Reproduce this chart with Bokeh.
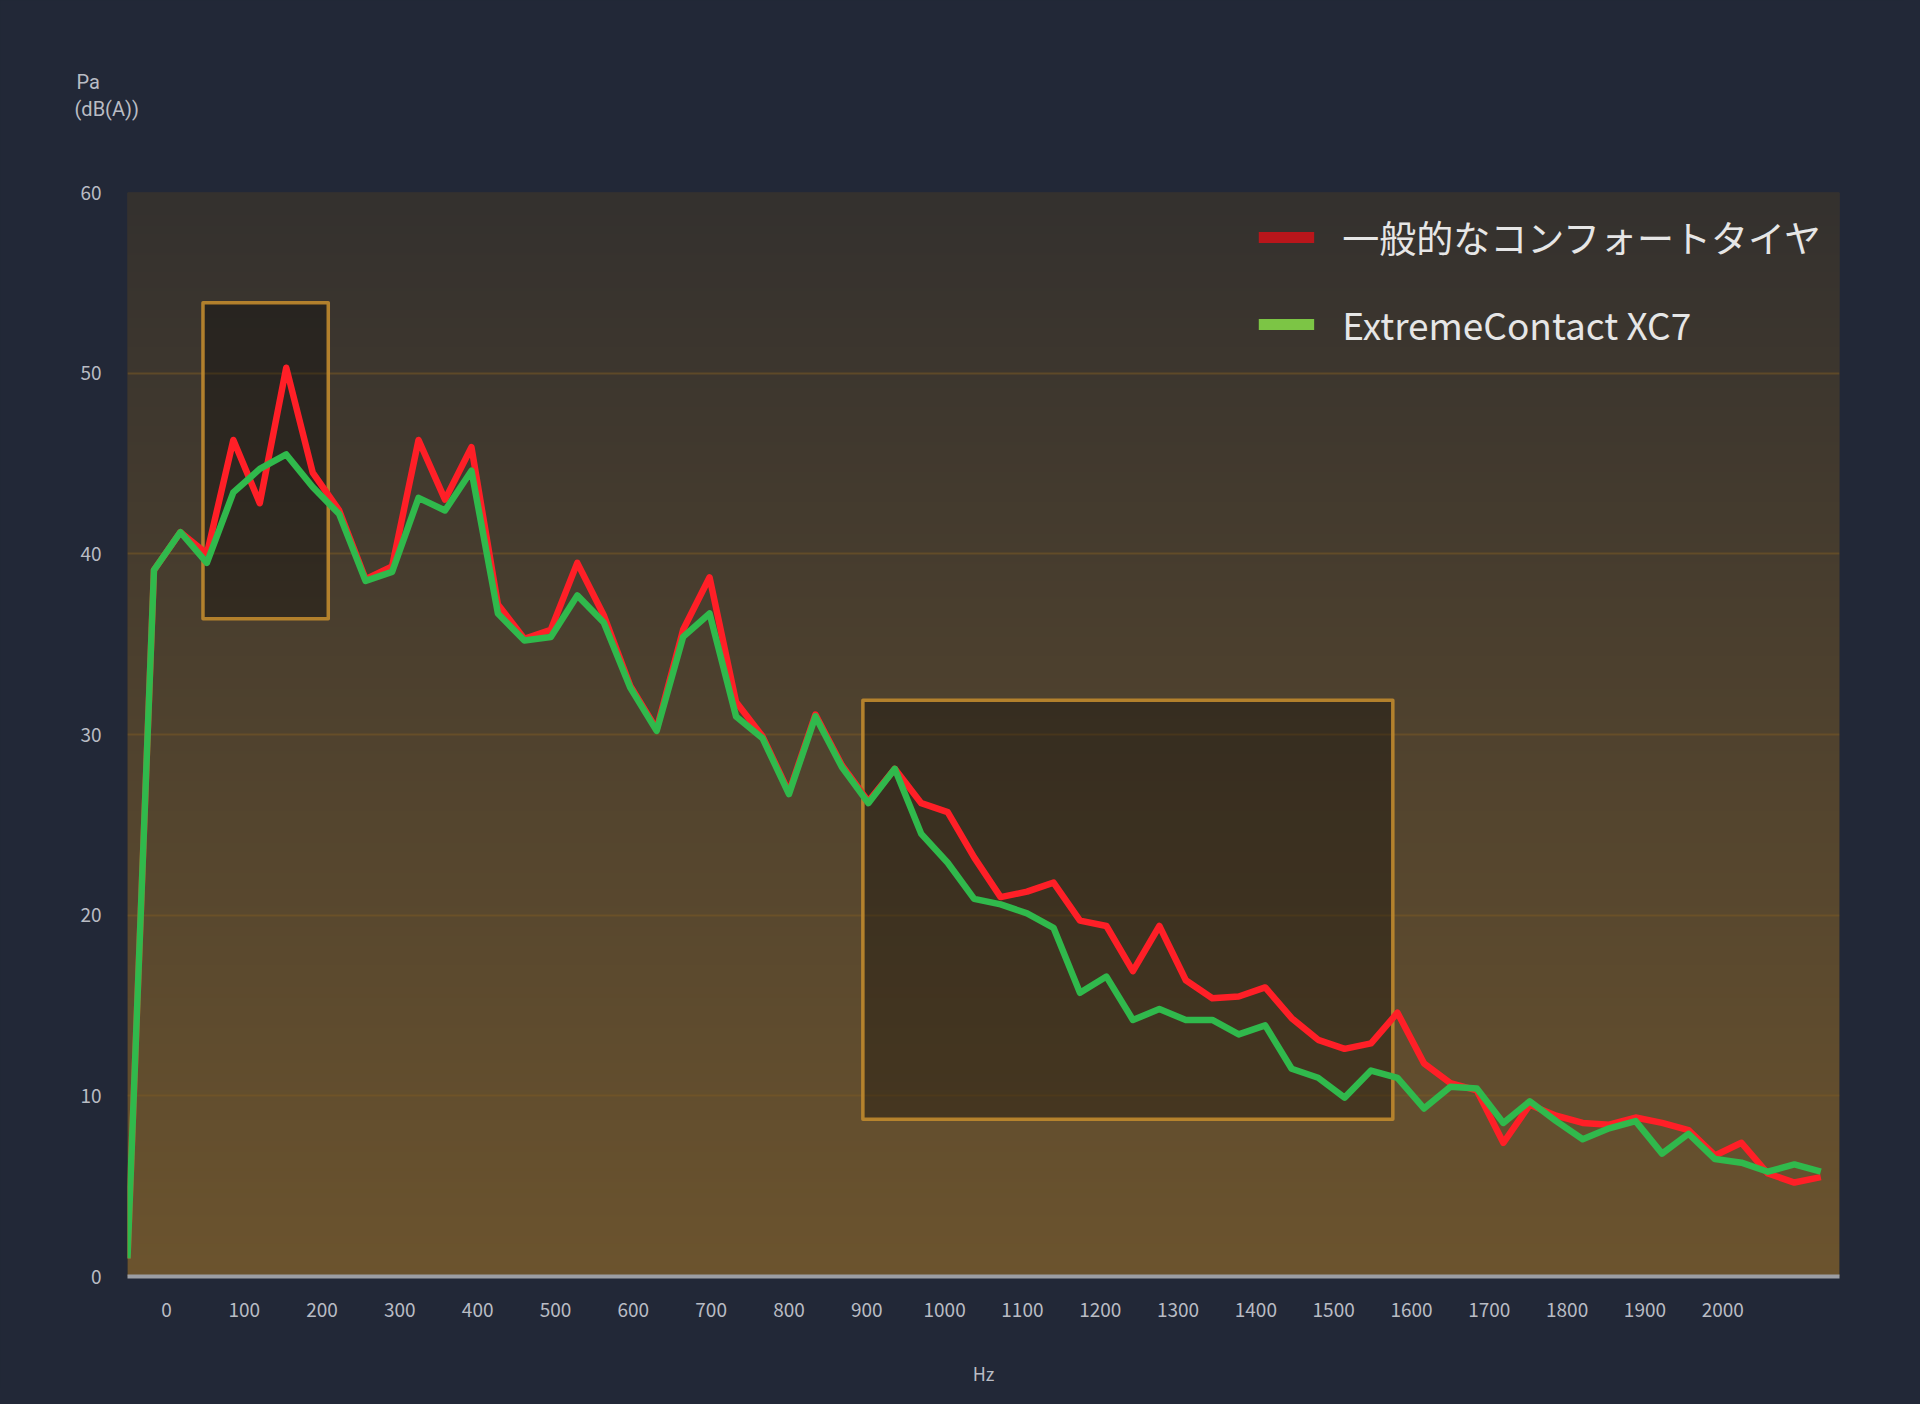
import numpy as np
from bokeh.plotting import figure
from bokeh.models import (Legend, LegendItem, Title, FixedTicker, Range1d,
                          ColumnDataSource)
from bokeh.embed import file_html
from bokeh.resources import INLINE

# ---------------- data ----------------
freq = [-50, -16, 18, 52, 86, 120, 154, 188, 222, 256, 290, 324, 358, 392, 426,
        460, 494, 528, 562, 596, 630, 664, 698, 732, 766, 800, 834, 868, 902,
        936, 970, 1004, 1038, 1072, 1106, 1140, 1174, 1208, 1242, 1276, 1310,
        1344, 1378, 1412, 1446, 1480, 1514, 1548, 1582, 1616, 1650, 1684, 1718,
        1752, 1786, 1820, 1854, 1888, 1922, 1956, 1990, 2024, 2058, 2092, 2126]

comfort = [1.0, 39.1, 41.2, 40.0, 46.3, 42.8, 50.3, 44.5, 42.4, 38.6, 39.3,
           46.3, 43.0, 45.9, 37.2, 35.3, 35.8, 39.5, 36.6, 32.7, 30.3, 35.8,
           38.7, 31.8, 29.9, 26.8, 31.1, 28.3, 26.3, 28.1, 26.2, 25.7, 23.2,
           21.0, 21.3, 21.8, 19.7, 19.4, 16.9, 19.4, 16.4, 15.4, 15.5, 16.0,
           14.3, 13.1, 12.6, 12.9, 14.6, 11.8, 10.7, 10.3, 7.4, 9.5, 8.9, 8.5,
           8.4, 8.8, 8.5, 8.1, 6.7, 7.4, 5.7, 5.2, 5.5]

xc7 = [1.0, 39.1, 41.2, 39.5, 43.4, 44.7, 45.5, 43.7, 42.2, 38.5, 39.0, 43.1,
       42.4, 44.6, 36.7, 35.2, 35.4, 37.7, 36.2, 32.6, 30.2, 35.4, 36.7, 31.0,
       29.8, 26.7, 31.0, 28.2, 26.2, 28.1, 24.5, 22.9, 20.9, 20.6, 20.1, 19.3,
       15.7, 16.6, 14.2, 14.8, 14.2, 14.2, 13.4, 13.9, 11.5, 11.0, 9.9, 11.4,
       11.0, 9.3, 10.5, 10.4, 8.5, 9.7, 8.6, 7.6, 8.2, 8.6, 6.8, 7.9, 6.5,
       6.3, 5.8, 6.2, 5.8]

series_names = ["一般的なコンフォートタイヤ", "ExtremeContact XC7"]
x_ticks = list(range(0, 2001, 100))
y_ticks = [0, 10, 20, 30, 40, 50, 60]
y_unit = ["Pa", "(dB(A))"]

# highlighted regions (left, right, bottom, top)
hl_left = [47, 895]
hl_right = [208, 1576]
hl_bottom = [36.4, 8.7]
hl_top = [53.9, 31.9]

# ---------------- styles ----------------
FONT = "Noto Sans CJK JP"
UNIT_FONT = "Roboto"
PAGE_BG = "#222837"
TEXT = "#b9bcc4"
RED = "#ff1f27"
GREEN = "#30b94c"
RED_LEG = "#b9161b"
GREEN_LEG = "#7cc545"

X0, X1 = -50, 2150
Y0, Y1 = 0, 60

p = figure(width=1904, height=1388, x_range=Range1d(X0, X1),
           y_range=Range1d(Y0, Y1), output_backend="svg",
           toolbar_location=None, min_border_left=127, min_border_right=65,
           min_border_top=192, min_border_bottom=112)
p.border_fill_color = PAGE_BG
p.background_fill_color = "#3e362c"
p.outline_line_color = None

# vertical gradient background of the plotting area
n = 400
top = np.array([52, 49, 46], dtype=float)
bot = np.array([108, 84, 46], dtype=float)
t = np.linspace(0, 1, n)[:, None]
cols = bot * (1 - t) + top * t
img = np.zeros((n, 1), dtype=np.uint32)
view = img.view(dtype=np.uint8).reshape((n, 1, 4))
view[:, 0, 0] = cols[:, 0].astype(np.uint8)
view[:, 0, 1] = cols[:, 1].astype(np.uint8)
view[:, 0, 2] = cols[:, 2].astype(np.uint8)
view[:, 0, 3] = 255
p.image_rgba(image=[img], x=X0, y=Y0, dw=X1 - X0, dh=Y1 - Y0, level="image")

# grid
p.xgrid.grid_line_color = None
p.ygrid.grid_line_color = "#7a5a24"
p.ygrid.grid_line_alpha = 0.55
p.ygrid.grid_line_width = 2
p.ygrid.ticker = FixedTicker(ticks=y_ticks)

# axes
p.xaxis.ticker = FixedTicker(ticks=x_ticks)
p.yaxis.ticker = FixedTicker(ticks=y_ticks)
for ax in (p.xaxis, p.yaxis):
    ax.major_tick_line_color = None
    ax.minor_tick_line_color = None
    ax.major_label_text_color = TEXT
    ax.major_label_text_font = FONT
    ax.major_label_text_font_size = "19px"
p.yaxis.axis_line_color = None
p.yaxis.major_label_standoff = 20
p.xaxis.axis_line_color = "#9c9ea4"
p.xaxis.axis_line_width = 4
p.xaxis.major_label_standoff = 20
p.xaxis.axis_label = "Hz"
p.xaxis.axis_label_text_color = TEXT
p.xaxis.axis_label_text_font = FONT
p.xaxis.axis_label_text_font_size = "18px"
p.xaxis.axis_label_text_font_style = "normal"
p.xaxis.axis_label_standoff = 40

# highlight boxes
hl = ColumnDataSource(dict(left=hl_left, right=hl_right, bottom=hl_bottom, top=hl_top))
p.quad(left="left", right="right", bottom="bottom", top="top", source=hl,
       fill_color="black", fill_alpha=0.3, line_color="#c0892e",
       line_alpha=0.9, line_width=3.5, line_join="round")

# series
src = ColumnDataSource(dict(f=freq, comfort=comfort, xc7=xc7))
p.line("f", "comfort", source=src, line_color=RED, line_width=6.5,
       line_join="round")
p.line("f", "xc7", source=src, line_color=GREEN, line_width=6.5,
       line_join="round")

# legend (legend swatches use their own colours)
nan_src = ColumnDataSource(dict(x=[float("nan")], y=[float("nan")]))
leg_r = p.line("x", "y", source=nan_src, line_color=RED_LEG, line_width=11)
leg_g = p.line("x", "y", source=nan_src, line_color=GREEN_LEG, line_width=11)
legend = Legend(items=[LegendItem(label=series_names[0], renderers=[leg_r]),
                       LegendItem(label=series_names[1], renderers=[leg_g])],
                location="top_right")
legend.label_text_font = FONT
legend.label_text_font_size = "37px"
legend.label_text_color = "#e6e6e6"
legend.glyph_width = 56
legend.glyph_height = 30
legend.label_standoff = 28
legend.spacing = 33
legend.padding = 10
legend.margin = 8
legend.background_fill_alpha = 0
legend.border_line_alpha = 0
p.add_layout(legend)

# y-axis unit label at top-left (stacked titles above the frame)
p.add_layout(Title(text=" ", align="left", standoff=40,
                   text_font=FONT, text_font_size="20px",
                   text_font_style="normal", text_color=PAGE_BG), "above")
p.add_layout(Title(text=y_unit[1], align="left", offset=-53, standoff=2,
                   text_font=UNIT_FONT, text_font_size="20px",
                   text_font_style="normal", text_color=TEXT), "above")
p.add_layout(Title(text=y_unit[0], align="left", offset=-51, standoff=0,
                   text_font=UNIT_FONT, text_font_size="20px",
                   text_font_style="normal", text_color=TEXT), "above")

html = file_html(p, INLINE, title="chart")
html = html.replace("</head>",
                    "<style>html,body{background:%s;}</style></head>" % PAGE_BG, 1)
open("out.html", "w").write(html)
